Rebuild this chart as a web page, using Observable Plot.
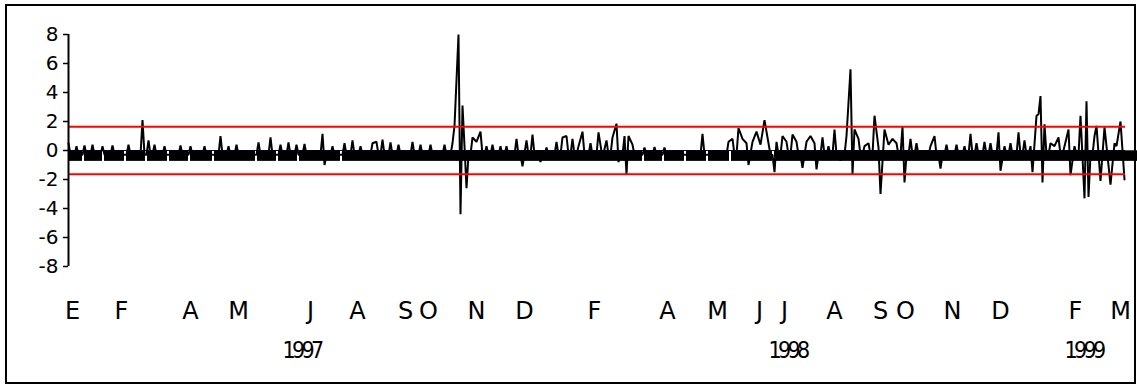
<!DOCTYPE html>
<html>
<head>
<meta charset="utf-8">
<script src="https://cdn.jsdelivr.net/npm/d3@7"></script>
<script src="https://cdn.jsdelivr.net/npm/@observablehq/plot@0.6"></script>
<style>
  html, body { margin: 0; padding: 0; background: #fff; }
  #chart { width: 1137px; height: 386px; }
  .year text { letter-spacing: -3.6px; }
</style>
</head>
<body>
<div id="chart"></div>
<script>
// ---- data (observation index, value) ----
const obsIdx = [0,4,8,12,17,22,30,37,40,43,48,56,61,68,76,80,84,95,101,106,110,114,118,127,128,132,138,142,146,152,154,157,161,165,172,176,181,188,192,193,195,196,197,198,199,202,204,206,209,212,216,219,224,227,229,232,236,239,244,247,249,252,255,257,261,265,267,269,272,274,275,278,279,280,282,288,293,298,317,330,332,335,337,339,340,342,344,346,348,350,353,354,357,359,362,364,367,369,371,373,374,377,380,383,386,389,391,392,393,395,398,400,403,405,406,408,410,412,414,417,418,421,424,428,431,433,436,439,444,448,451,454,458,461,465,466,468,471,475,478,481,482,484,485,486,487,488,491,493,495,498,500,501,503,506,508,509,510,513,514,516,518,519,521,523,524,526,528];
const obsVal = [0.5,0.3,0.35,0.4,0.3,0.35,0.4,2.1,0.7,0.4,0.3,0.35,0.3,0.3,1.0,0.3,0.4,0.55,0.9,0.4,0.55,0.4,0.45,1.15,-1.0,0.3,0.5,0.7,0.3,0.5,0.6,0.75,0.55,0.4,0.6,0.4,0.4,0.4,0.5,1.7,8.0,-4.4,3.1,0.3,-2.6,0.9,0.6,1.3,0.3,0.4,0.3,0.3,0.8,-1.1,0.7,1.1,-0.8,0.2,0.6,0.9,1.0,0.8,0.3,1.3,0.5,1.25,-0.5,0.7,0.9,1.85,-0.8,1.0,-1.65,1.0,0.4,0.2,0.25,0.2,1.15,0.6,0.8,1.55,0.8,0.5,-1.0,0.6,1.3,0.4,2.1,0.5,-1.5,0.6,1.0,0.6,1.1,0.6,-1.2,0.6,1.0,0.5,-1.3,0.9,0.3,1.45,-0.7,1.0,5.6,-1.65,1.45,0.8,0.3,0.5,2.4,0.2,-3.0,1.45,0.4,0.8,0.5,1.65,-2.2,0.8,0.5,-0.4,0.3,1.0,-1.25,0.4,0.4,0.3,1.15,0.5,0.6,0.5,1.25,-1.4,0.3,0.5,1.25,0.7,0.3,-1.5,2.4,2.5,3.75,-2.2,1.8,0.5,0.3,0.9,0.3,1.45,-1.7,0.3,2.4,-3.3,3.4,-3.2,1.0,1.7,-2.1,1.6,0.3,-2.35,0.5,0.3,2.0,-2.0];
const baseLevel = -0.3;          // level of the dense oscillation between spikes
const bandTop = -0.02, bandBottom = -0.75;
const bandEnd = 534.5;
const bandGaps = [7.5,17.5,28.5,39,50,60.5,72.5,94,104.5,115,136.5,287.5,297.5,308.5,319.5,331,352.5];
const bounds = [1.645, -1.645];
const boundsEnd = 528.5;
const yTicks = [-8,-6,-4,-2,0,2,4,6,8];
const monthLabels = ["E","F","A","M","J","A","S","O","N","D","F","A","M","J","J","A","S","O","N","D","F","M"];
const monthIdx = [2,26.5,61,85,121,144.5,168.5,180,204,228,263,299.5,324.5,345.5,358,383,406,418.5,442,466,503.5,526];
const yearLabels = ["1997","1998","1999"];
const yearIdx = [116.5,359.5,507.5];

// ---- build line table ----
const linePts = [];
for (let i = 0; i < obsIdx.length; i++) {
  linePts.push({x: obsIdx[i], y: obsVal[i]});
  if (i < obsIdx.length - 1 && obsIdx[i+1] - obsIdx[i] > 2) {
    linePts.push({x: obsIdx[i] + 1, y: baseLevel});
    linePts.push({x: obsIdx[i+1] - 1, y: baseLevel});
  }
}
// band segments between gaps
const segs = [];
let s = 0;
for (const g of bandGaps) { segs.push({x1: s, x2: g - 0.5}); s = g + 0.5; }
segs.push({x1: s, x2: bandEnd});

const plot = Plot.plot({
  width: 1137,
  height: 386,
  marginLeft: 68,
  marginRight: 0,
  marginTop: 34,
  marginBottom: 120,
  style: {fontFamily: "DejaVu Sans", background: "#fff", color: "#000"},
  x: {domain: [0, bandEnd], axis: null},
  y: {domain: [-8, 8], axis: null},
  marks: [
    Plot.ruleY([0], {x1: 0, x2: boundsEnd, stroke: "#000080", strokeWidth: 1}),
    Plot.rectY(segs, {x1: "x1", x2: "x2", y1: bandTop, y2: bandBottom, fill: "#000"}),
    Plot.line(linePts, {x: "x", y: "y", stroke: "#000", strokeWidth: 2, strokeLinejoin: "miter"}),
    Plot.ruleY(bounds, {x1: 0, x2: boundsEnd, stroke: "#ff0000", strokeWidth: 2}),
    Plot.ruleX([0], {y1: yTicks[0], y2: yTicks[yTicks.length-1], stroke: "#000", strokeWidth: 2}),
    Plot.axisY(yTicks, {tickSize: 5, tickPadding: 5, fontSize: 20, label: null, tickFormat: d => String(d), strokeWidth: 1.5}),
    Plot.text(monthIdx, {x: d => d, text: (d, i) => monthLabels[i], frameAnchor: "bottom", lineAnchor: "bottom", dy: 52, fontSize: 24, fill: "#000"}),
    Plot.text(yearIdx, {x: d => d, text: (d, i) => yearLabels[i], frameAnchor: "bottom", lineAnchor: "bottom", dy: 91, fontSize: 23, fontFamily: "DejaVu Sans Condensed", fill: "#000", className: "year"})
  ]
});
document.getElementById("chart").appendChild(plot);
// outer frame
d3.select(plot).append("rect")
  .attr("x", 6).attr("y", 5).attr("width", 1129).attr("height", 378)
  .attr("fill", "none").attr("stroke", "#000").attr("stroke-width", 2);
</script>
</body>
</html>
